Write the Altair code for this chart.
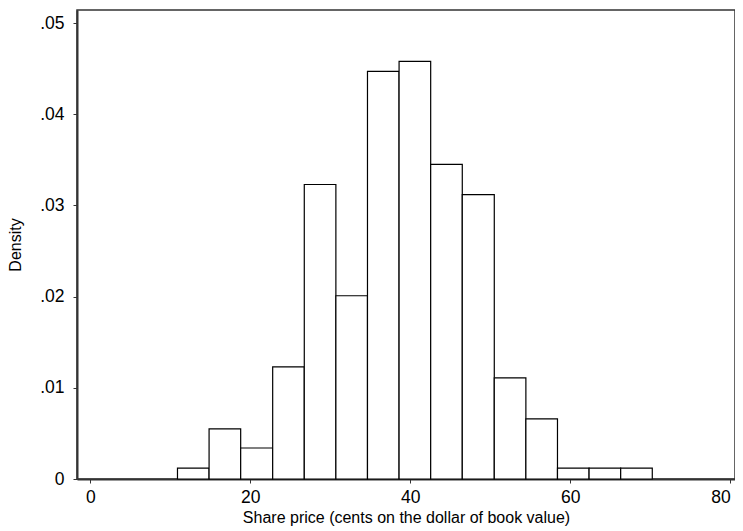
import altair as alt
import pandas as pd

# Histogram bin edges (cents on the dollar of book value)
bin_left = [10.9, 14.85, 18.8, 22.8, 26.75, 30.7, 34.65, 38.6, 42.55, 46.5,
            50.5, 54.45, 58.4, 62.35, 66.3]
bin_right = [14.85, 18.8, 22.8, 26.75, 30.7, 34.65, 38.6, 42.55, 46.5, 50.5,
             54.45, 58.4, 62.35, 66.3, 70.25]
density = [0.0012, 0.0055, 0.0034, 0.0123, 0.0323, 0.0201, 0.0447, 0.0458,
           0.0345, 0.0312, 0.0111, 0.0066, 0.0012, 0.0012, 0.0012]

x_ticks = [0, 20, 40, 60, 80]
y_ticks = [0, 0.01, 0.02, 0.03, 0.04, 0.05]

df = pd.DataFrame({"x0": bin_left, "x1": bin_right, "d": density})

FONT = "Liberation Sans"

chart = alt.Chart(df).mark_rect(
    fill="white", stroke="black", strokeWidth=1.2
).encode(
    x=alt.X("x0:Q",
            scale=alt.Scale(domain=[-1.66, 80.59], nice=False, zero=False),
            axis=alt.Axis(values=x_ticks, title="Share price (cents on the dollar of book value)",
                          grid=False, tickSize=4, labelPadding=5, titlePadding=4,
                          labelFlush=6,
                          labelFontSize=17.5, titleFontSize=16)),
    x2="x1:Q",
    y=alt.Y("d:Q",
            scale=alt.Scale(domain=[0, 0.05144], nice=False),
            axis=alt.Axis(values=y_ticks, title="Density", grid=False, tickSize=4,
                          labelPadding=9, titlePadding=16,
                          labelExpr="datum.value == 0 ? '0' : replace(format(datum.value, '.2f'), '0.', '.')",
                          labelFontSize=17.5, titleFontSize=16)),
    y2=alt.datum(0),
).properties(
    width=658, height=469,
    autosize=alt.AutoSizeParams(type="none"),
    padding={"left": 69, "top": 2, "right": 0, "bottom": 52},
).configure_view(
    stroke="#333333", strokeWidth=1.5
).configure_axis(
    domainColor="#333333", domainWidth=2, tickColor="#333333", tickWidth=1,
    labelFont=FONT, titleFont=FONT, labelColor="black", titleColor="black",
    titleFontWeight="normal"
)

chart.save("out.html", embed_options={"renderer": "svg", "actions": False})
